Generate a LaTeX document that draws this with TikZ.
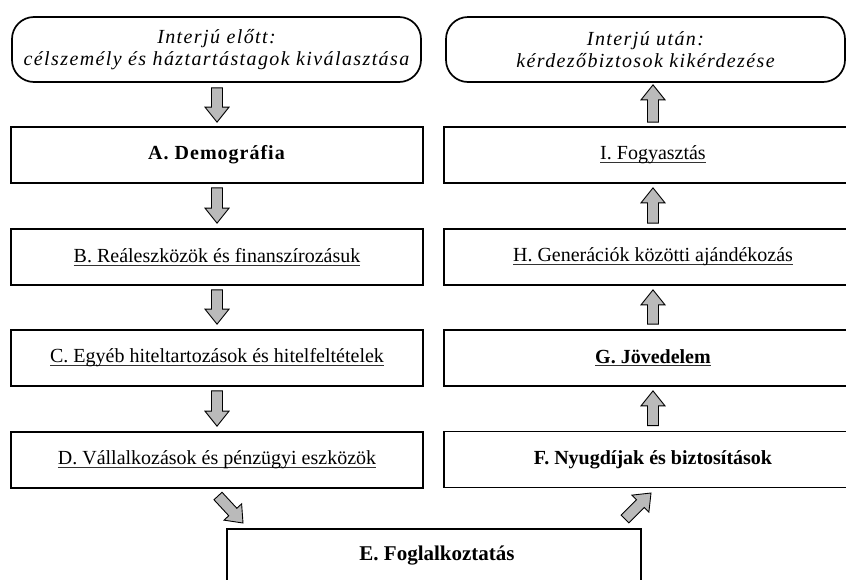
\documentclass[tikz,border=0pt]{standalone}
\usepackage{fontspec}
\setmainfont{Liberation Serif}
\usetikzlibrary{calc}
\newcommand\undl[1]{\setbox0\hbox{#1}\rlap{\color{black!80}\rule[-2.8pt]{\wd0}{0.9pt}}\box0}
\tikzset{
  box/.style={draw=black, line width=1.7pt, fill=white, minimum height=56pt, inner sep=0pt, font=\fontsize{20}{23}\selectfont},
  leftbox/.style={box, minimum width=412pt},
  rightbox/.style={box, minimum width=418pt},
  endbox/.style={draw=black, line width=1.7pt, fill=white, rounded corners=22pt, minimum height=65pt, align=center, inner sep=0pt, font=\fontsize{20}{22}\selectfont\itshape\addfontfeature{LetterSpace=7}},
  blk/.style={draw=black, line width=0.9pt, fill=black!27, line join=miter},
}
\newcommand\blockarrow[2]{%
  \draw[blk] ($(#1)!5.5pt!90:(#2)$) -- ($($(#2)!15pt!(#1)$)!5.5pt!90:(#2)$) -- ($($(#2)!15pt!(#1)$)!12pt!90:(#2)$) -- (#2) -- ($($(#2)!15pt!(#1)$)!12pt!-90:(#2)$) -- ($($(#2)!15pt!(#1)$)!5.5pt!-90:(#2)$) -- ($(#1)!5.5pt!-90:(#2)$) -- cycle;}
\begin{document}
\begin{tikzpicture}[x=1pt,y=-1pt]
\useasboundingbox (0,0) rectangle (846,579);
% left column
\node[endbox, minimum width=409pt] (pre) at (216.5,49.5) {\raisebox{-2pt}{Interjú előtt:}\\\raisebox{-2pt}{célszemély és háztartástagok kiválasztása}};
\node[leftbox] (A) at (217,155) {\textbf{\addfontfeature{LetterSpace=5}A. Demográfia}};
\node[leftbox] (B) at (217,257) {\undl{B. Reáleszközök és finanszírozásuk}};
\node[leftbox] (C) at (217,358) {\undl{C. Egyéb hiteltartozások és hitelfeltételek}};
\node[leftbox] (D) at (217,460) {\undl{D. Vállalkozások és pénzügyi eszközök}};
% right column
\node[endbox, minimum width=399pt] (post) at (645.5,49.5) {\raisebox{-2pt}{Interjú után:}\\\raisebox{-2pt}{kérdezőbiztosok kikérdezése}};
\node[rightbox] (I) at (653,155) {\undl{I. Fogyasztás}};
\node[rightbox] (H) at (653,257) {\undl{H. Generációk közötti ajándékozás}};
\node[rightbox] (G) at (653,358) {\undl{\textbf{G. Jövedelem}}};
\node[rightbox] (F) at (653,459.5) {\textbf{F. Nyugdíjak és biztosítások}};
% bottom
\node[box, minimum width=414pt, minimum height=72pt, anchor=north] (E) at (434,528) {};
\node[font=\fontsize{21}{23}\selectfont\bfseries] (Et) at (437,556) {E. Foglalkoztatás};
% arrow end points
\coordinate (a1s) at ($(pre.south -| A.north)+(0,5)$);
\coordinate (a1e) at ($(A.north)+(0,-4)$);
\coordinate (a2s) at ($(A.south)+(0,4)$);
\coordinate (a2e) at ($(B.north)+(0,-5)$);
\coordinate (a3s) at ($(B.south)+(0,4)$);
\coordinate (a3e) at ($(C.north)+(0,-5)$);
\coordinate (a4s) at ($(C.south)+(0,4)$);
\coordinate (a4e) at ($(D.north)+(0,-5)$);
\coordinate (a5s) at (218,496);
\coordinate (a5e) at (243,523);
\coordinate (b1s) at (625,519);
\coordinate (b1e) at (651,493);
\coordinate (b2s) at ($(F.north)+(0,-5)$);
\coordinate (b2e) at ($(G.south)+(0,4)$);
\coordinate (b3s) at ($(G.north)+(0,-5)$);
\coordinate (b3e) at ($(H.south)+(0,4)$);
\coordinate (b4s) at ($(H.north)+(0,-5)$);
\coordinate (b4e) at ($(I.south)+(0,4)$);
\coordinate (b5s) at ($(I.north)+(0,-4)$);
\coordinate (b5e) at ($(post.south -| I.north)+(0,2)$);
\blockarrow{a1s}{a1e}
\blockarrow{a2s}{a2e}
\blockarrow{a3s}{a3e}
\blockarrow{a4s}{a4e}
\blockarrow{a5s}{a5e}
\blockarrow{b1s}{b1e}
\blockarrow{b2s}{b2e}
\blockarrow{b3s}{b3e}
\blockarrow{b4s}{b4e}
\blockarrow{b5s}{b5e}
\end{tikzpicture}
\end{document}
